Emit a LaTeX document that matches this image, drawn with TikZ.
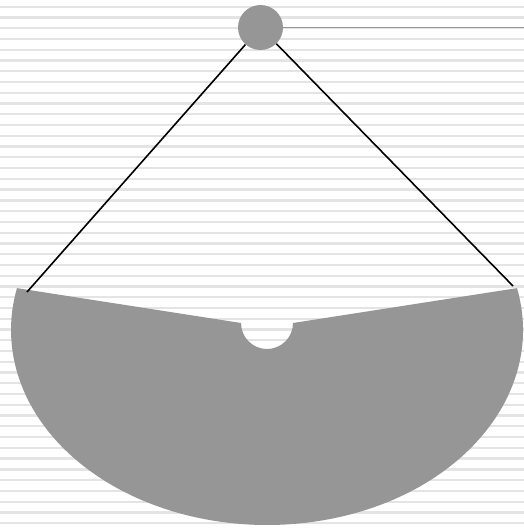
\documentclass[tikz,border=0pt]{standalone}
\usetikzlibrary{calc}
\definecolor{bowlgray}{HTML}{969696}
\definecolor{stripe}{HTML}{E4E4E4}
\tikzset{
  stripeline/.style={draw=stripe, line width=2.3pt},
  rope/.style={draw=black, line width=1.6pt},
  beam/.style={draw=bowlgray, line width=1.3pt},
  pivotnode/.style={circle, fill=bowlgray, draw=none, minimum size=45pt, inner sep=0pt},
  bowlfill/.style={fill=bowlgray, draw=none}
}
\begin{document}
\begin{tikzpicture}[x=1pt, y=-1pt]
\useasboundingbox (0,0) rectangle (524,530);
\fill[white] (0,0) rectangle (524,530);
% background stripes
\foreach \k in {0,...,48} {
  \draw[stripeline] (0,{6.7+10.76*\k}) -- (524,{6.7+10.76*\k});
}
% coordinates
\coordinate (ropeend) at (524,30.5);
\coordinate (lefthook) at (27,292);
\coordinate (righthook) at (513,286);
\coordinate (tl) at ({267+256*cos(192.4)},{330+195*sin(192.4)});
\coordinate (tr) at ({267+256*cos(-12.4)},{330+195*sin(-12.4)});
% bowl
\path[bowlfill] (tl) -- (241,323) arc[start angle=180, end angle=0, radius=26] -- (tr)
  arc[start angle=-12.4, end angle=192.4, x radius=256, y radius=195] -- cycle;
% pivot
\node[pivotnode] (pivot) at (260.5,27.5) {};
\draw[beam] (pivot) -- (pivot.center -| ropeend);
\draw[rope] (pivot) -- (lefthook);
\draw[rope] (pivot) -- (righthook);
\end{tikzpicture}
\end{document}
